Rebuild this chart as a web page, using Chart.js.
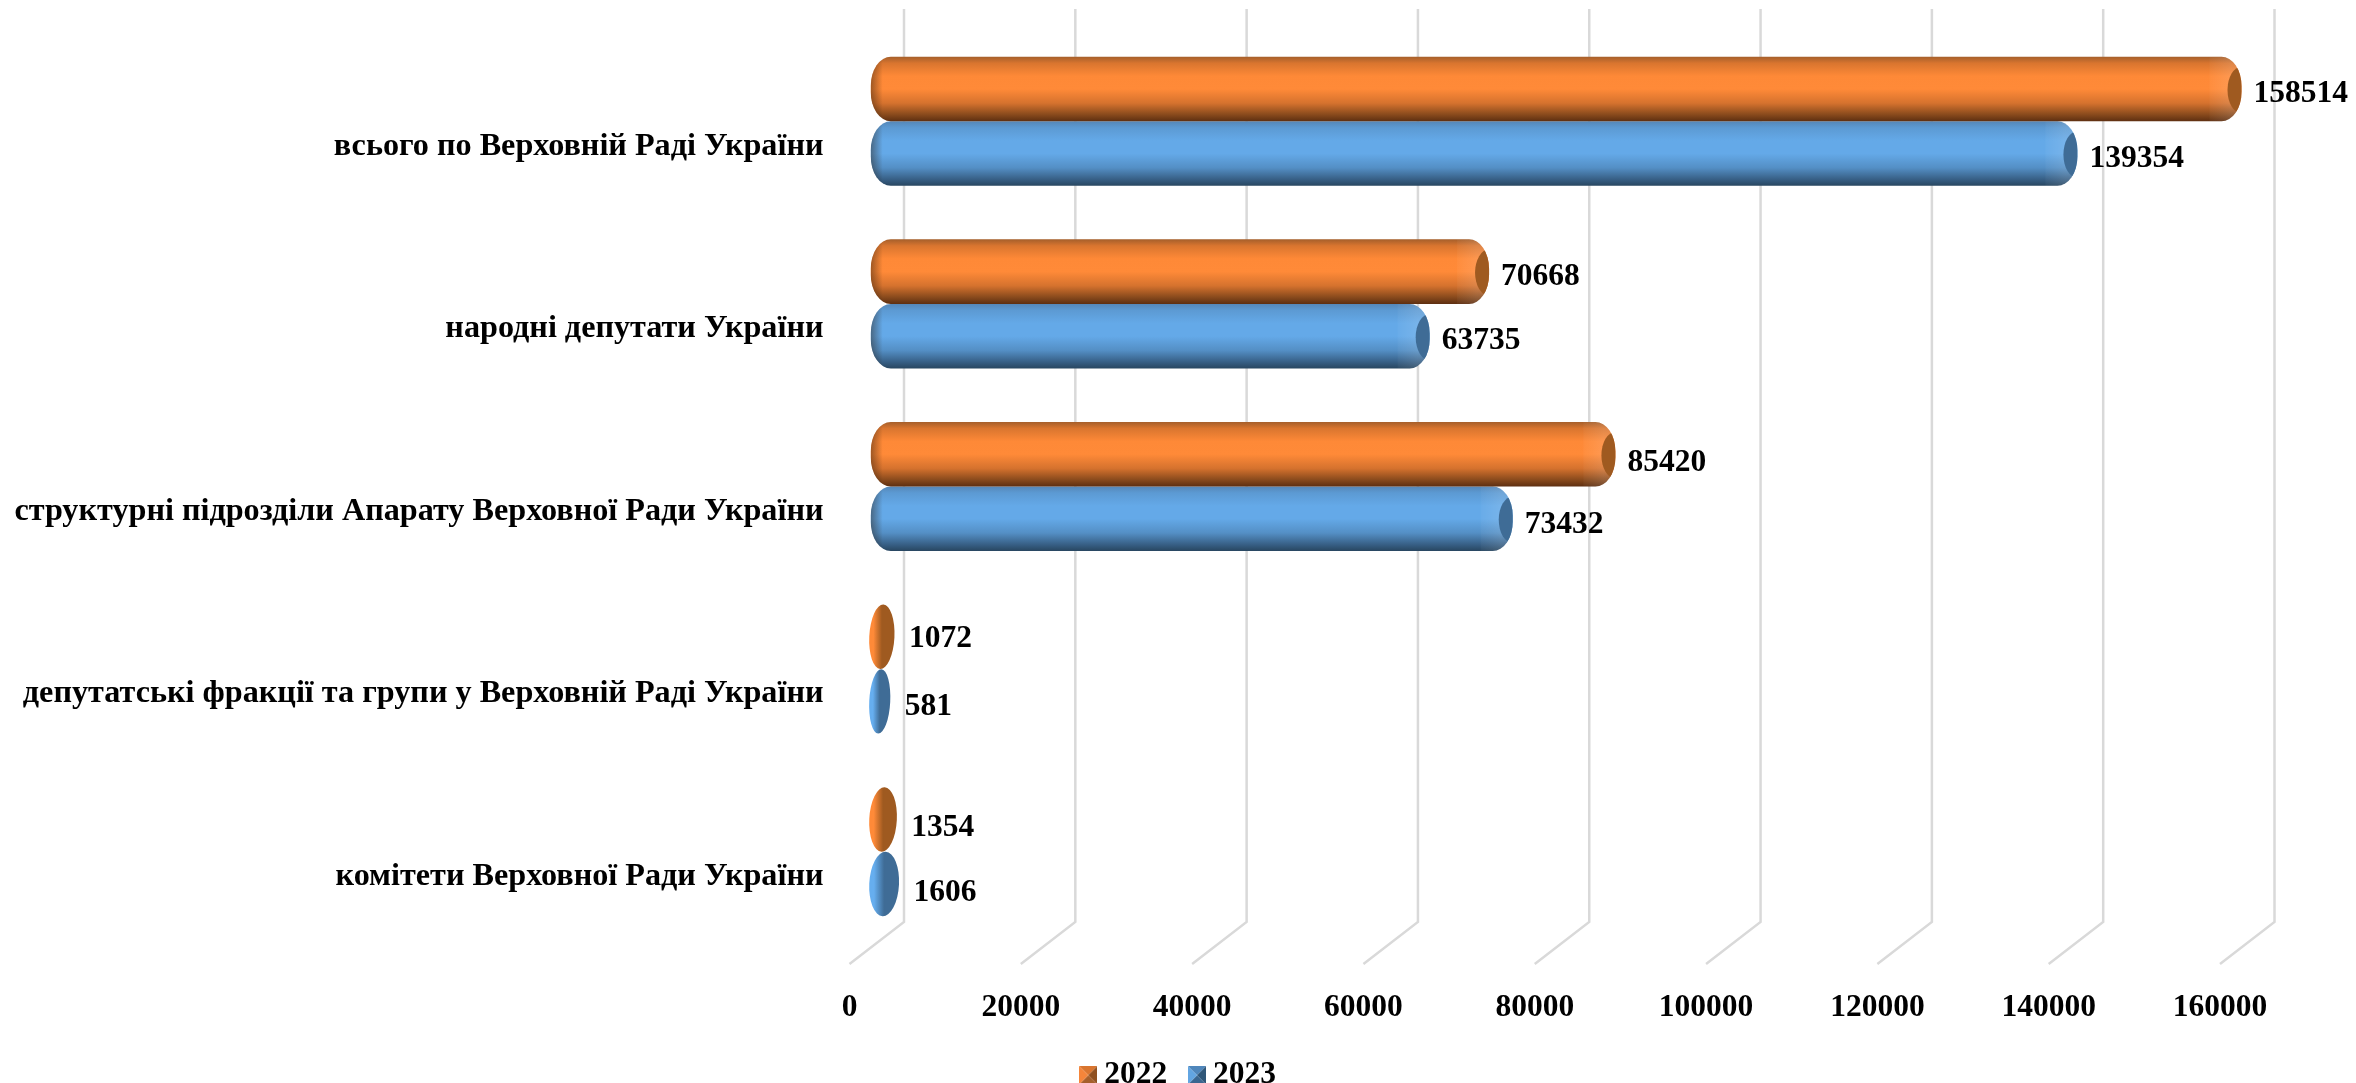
<!DOCTYPE html>
<html>
<head>
<meta charset="utf-8">
<title>chart</title>
<script src="https://cdn.jsdelivr.net/npm/chart.js@4"></script>
<style>
  html, body { margin: 0; padding: 0; background: #fff; }
  canvas { display: block; }
</style>
</head>
<body>
<canvas id="chart" width="2356" height="1083"></canvas>
<script>
const categories = [
  'всього по Верховній Раді України',
  'народні депутати України',
  'структурні підрозділи Апарату Верховної Ради України',
  'депутатські фракції та групи у Верховній Раді України',
  'комітети Верховної Ради України'
];
const values2022 = [158514, 70668, 85420, 1072, 1354];
const values2023 = [139354, 63735, 73432, 581, 1606];
const axisTicks = [0, 20000, 40000, 60000, 80000, 100000, 120000, 140000, 160000];

const FONT = '"Liberation Serif", "Times New Roman", serif';
const FONT_SIZE = 31.5;

// fake 3d floor: how far the back wall sits from the front plane
const DEPTH_X = 54.5;
const DEPTH_Y = -42;

// hand placed data labels sit a little off the bar centre in the original
const labelNudgeY = [[5, 5, 9, 2, 8], [5, 5, 6, 5, 9]];

const orange = {
  stops: [[0, '#a55f2b'], [0.1, '#d9752f'], [0.3, '#fe8937'], [0.5, '#ff8a38'], [0.72, '#d5722e'], [0.9, '#87491c'], [1, '#5e2f11']],
  cap: '#9f5a20', light: '#ff8a38'
};
const blue = {
  stops: [[0, '#5587b8'], [0.1, '#5c9ad3'], [0.3, '#64a9e8'], [0.5, '#64a9e8'], [0.72, '#548fc5'], [0.9, '#375f85'], [1, '#284660']],
  cap: '#3f6c96', light: '#66aeef'
};
const palettes = [orange, blue];

function legendMarker(light, top, right, bottom) {
  const c = document.createElement('canvas');
  c.width = 18; c.height = 18;
  const g = c.getContext('2d');
  const tri = (color, x1, y1, x2, y2) => {
    g.fillStyle = color;
    g.beginPath(); g.moveTo(9, 9); g.lineTo(x1, y1); g.lineTo(x2, y2); g.closePath(); g.fill();
  };
  tri(top, 0, 0, 18, 0);
  tri(right, 18, 0, 18, 18);
  tri(bottom, 18, 18, 0, 18);
  tri(light, 0, 18, 0, 0);
  return c;
}
const markers = [
  legendMarker('#f5853a', '#d9752f', '#8f5020', '#a55f2b'),
  legendMarker('#62a5e2', '#4f86bb', '#2f5678', '#3a6690')
];

function drawCylinder(ctx, x0, x1, top, bottom, pal) {
  const left = x0 - 6;
  const right = x1 + 7;
  const w = right - left;
  const h = bottom - top;

  // tiny values only show the end cap, so they come out as a tilted ellipse
  if (w < 40) {
    const g = ctx.createLinearGradient(left, 0, right, 0);
    g.addColorStop(0, pal.light);
    g.addColorStop(0.12, pal.light);
    g.addColorStop(0.5, pal.cap);
    g.addColorStop(1, pal.cap);
    ctx.save();
    ctx.fillStyle = g;
    ctx.beginPath();
    ctx.ellipse((left + right) / 2, (top + bottom) / 2, w / 2 + 1.5, h / 2, 0.05, 0, Math.PI * 2);
    ctx.fill();
    ctx.restore();
    return;
  }

  const rx = 20;
  const ry = h / 2 - 3;
  ctx.save();
  ctx.beginPath();
  ctx.moveTo(left + rx, top);
  ctx.lineTo(right - rx, top);
  ctx.ellipse(right - rx, top + ry, rx, ry, 0, -Math.PI / 2, 0);
  ctx.lineTo(right, bottom - ry);
  ctx.ellipse(right - rx, bottom - ry, rx, ry, 0, 0, Math.PI / 2);
  ctx.lineTo(left + rx, bottom);
  ctx.ellipse(left + rx, bottom - ry, rx, ry, 0, Math.PI / 2, Math.PI);
  ctx.lineTo(left, top + ry);
  ctx.ellipse(left + rx, top + ry, rx, ry, 0, Math.PI, Math.PI * 1.5);
  ctx.closePath();

  const body = ctx.createLinearGradient(0, top, 0, bottom);
  pal.stops.forEach(s => body.addColorStop(s[0], s[1]));
  ctx.fillStyle = body;
  ctx.fill();
  ctx.clip();

  // shaded left end
  const shade = ctx.createLinearGradient(left, 0, left + 12, 0);
  shade.addColorStop(0, 'rgba(40,25,10,0.45)');
  shade.addColorStop(1, 'rgba(40,25,10,0)');
  ctx.fillStyle = shade;
  ctx.fillRect(left, top, 12, h);

  // bevel band just before the cap
  const band = ctx.createLinearGradient(right - 32, 0, right - 12, 0);
  band.addColorStop(0, 'rgba(255,255,255,0.03)');
  band.addColorStop(1, 'rgba(255,255,255,0.12)');
  ctx.fillStyle = band;
  ctx.fillRect(right - 32, top, 32, h);

  // right end cap
  ctx.fillStyle = pal.cap;
  ctx.beginPath();
  ctx.ellipse(right, (top + bottom) / 2 + 1, 14, h / 2 - 9, 0, 0, Math.PI * 2);
  ctx.fill();
  ctx.restore();
}

const depthPlugin = {
  id: 'depth',
  afterLayout(chart) {
    const lg = chart.legend;
    lg.left += 72; lg.right += 72;
    lg.top -= 2; lg.bottom -= 2;
  },
  beforeDatasetsDraw(chart) {
    const { ctx, scales: { x, y } } = chart;
    ctx.save();
    ctx.strokeStyle = '#d9d9d9';
    ctx.lineWidth = 2.5;
    ctx.lineJoin = 'miter';
    axisTicks.forEach(t => {
      const px = x.getPixelForValue(t);
      ctx.beginPath();
      ctx.moveTo(px + DEPTH_X, y.top + DEPTH_Y);
      ctx.lineTo(px + DEPTH_X, y.bottom + DEPTH_Y);
      ctx.lineTo(px, y.bottom);
      ctx.stroke();
    });
    ctx.restore();
  },
  beforeDatasetDraw(chart, args) {
    const { ctx } = chart;
    const meta = args.meta;
    meta.data.forEach(bar => {
      const half = bar.height / 2;
      drawCylinder(ctx,
        bar.base + DEPTH_X / 2, bar.x + DEPTH_X / 2,
        bar.y - half + DEPTH_Y / 2, bar.y + half + DEPTH_Y / 2,
        palettes[args.index]);
    });
    return false;
  },
  afterDatasetsDraw(chart) {
    const { ctx } = chart;
    ctx.save();
    ctx.fillStyle = '#000';
    ctx.font = `bold ${FONT_SIZE}px ${FONT}`;
    ctx.textAlign = 'left';
    ctx.textBaseline = 'middle';
    chart.data.datasets.forEach((ds, i) => {
      chart.getDatasetMeta(i).data.forEach((bar, j) => {
        const gap = ds.data[j] < 5000 ? 23 : 19;
        ctx.fillText(String(ds.data[j]), bar.x + DEPTH_X / 2 + gap, bar.y + DEPTH_Y / 2 + labelNudgeY[i][j]);
      });
    });
    ctx.restore();
  }
};

new Chart(document.getElementById('chart'), {
  type: 'bar',
  data: {
    labels: categories,
    datasets: [
      { label: '2022', data: values2022, backgroundColor: '#ff8a38', pointStyle: markers[0] },
      { label: '2023', data: values2023, backgroundColor: '#64a9e8', pointStyle: markers[1] }
    ]
  },
  plugins: [depthPlugin],
  options: {
    indexAxis: 'y',
    responsive: false,
    animation: false,
    layout: { padding: { top: 51, right: 136, left: 0, bottom: -20 } },
    categoryPercentage: 0.707,
    barPercentage: 1,
    scales: {
      x: {
        type: 'linear',
        min: 0,
        max: 160000,
        afterBuildTicks: s => { s.ticks = axisTicks.map(value => ({ value })); },
        afterFit: s => { s.height = 68; },
        grid: { display: false },
        border: { display: false },
        ticks: {
          autoSkip: false,
          maxRotation: 0,
          padding: 17,
          color: '#000',
          font: { family: FONT, size: FONT_SIZE, weight: 'bold' },
          callback: v => String(v)
        }
      },
      y: {
        type: 'category',
        afterFit: s => { s.width = 849.5; },
        grid: { display: false },
        border: { display: false },
        ticks: {
          padding: 18,
          labelOffset: 4,
          color: '#000',
          font: { family: FONT, size: 32.2, weight: 'bold' }
        }
      }
    },
    plugins: {
      tooltip: { enabled: false },
      legend: {
        position: 'bottom',
        labels: {
          usePointStyle: true,
          boxWidth: 0.5,
          padding: 29.5,
          color: '#000',
          font: { family: FONT, size: FONT_SIZE, weight: 'bold' },
          generateLabels: chart => chart.data.datasets.map((ds, i) => ({
            text: ds.label,
            pointStyle: ds.pointStyle,
            fontColor: '#000',
            datasetIndex: i
          }))
        }
      }
    }
  }
});
</script>
</body>
</html>
